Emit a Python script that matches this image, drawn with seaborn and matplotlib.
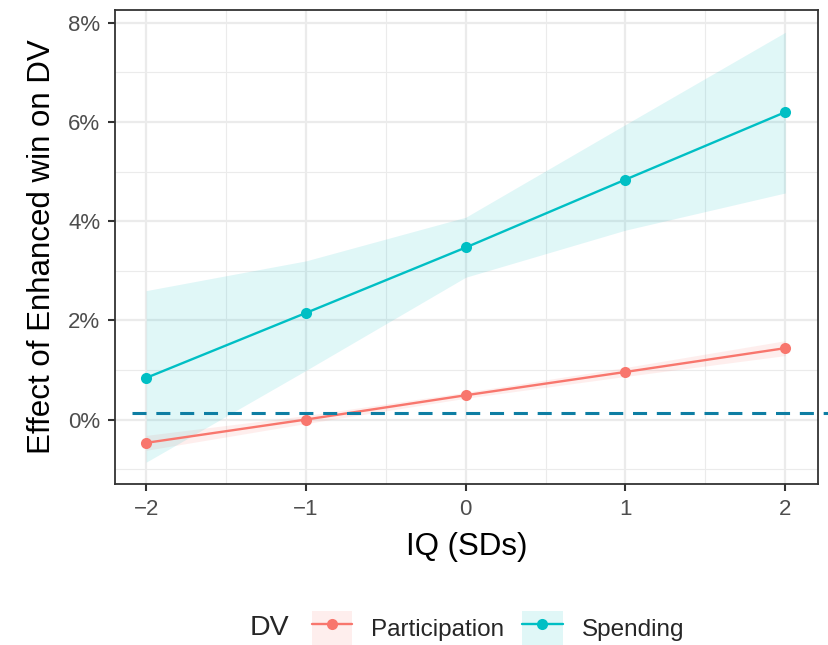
import numpy as np
import pandas as pd
import matplotlib
matplotlib.use("Agg")
import matplotlib.pyplot as plt
import seaborn as sns
from matplotlib.lines import Line2D
from matplotlib.patches import Patch
from matplotlib.ticker import FuncFormatter, MultipleLocator

# ---- data ----
iq = [-2, -1, 0, 1, 2]
participation = [-0.47, 0.00, 0.49, 0.96, 1.44]
participation_lo = [-0.62, -0.08, 0.43, 0.87, 1.29]
participation_hi = [-0.32, 0.08, 0.55, 1.05, 1.59]
spending = [0.84, 2.15, 3.47, 4.84, 6.20]
spending_lo = [-0.86, 0.99, 2.87, 3.82, 4.57]
spending_hi = [2.60, 3.20, 4.08, 5.95, 7.81]
ref_line = 0.13
series_names = ["Participation", "Spending"]
colors = {"Participation": "#F8766D", "Spending": "#00BFC4"}

df = pd.DataFrame({
    "IQ": iq * 2,
    "effect": participation + spending,
    "lo": participation_lo + spending_lo,
    "hi": participation_hi + spending_hi,
    "DV": ["Participation"] * 5 + ["Spending"] * 5,
})

sns.set_theme(style="white")
plt.rcParams["font.family"] = ["Liberation Sans", "DejaVu Sans"]

fig = plt.figure(figsize=(8.29, 6.45), dpi=100)
ax = fig.add_axes([115 / 829, 1 - 484 / 645, 703 / 829, 474 / 645])

for name in series_names:
    sub = df[df["DV"] == name]
    ax.fill_between(sub["IQ"], sub["lo"], sub["hi"], color=colors[name],
                    alpha=0.12, linewidth=0, zorder=2)

sns.lineplot(data=df, x="IQ", y="effect", hue="DV", palette=colors,
             marker="o", markersize=8, markeredgewidth=0, linewidth=1.7,
             ax=ax, legend=False, zorder=3)

ax.axhline(ref_line, xmin=17 / 703, xmax=714 / 703, color="#0E7EA3",
           linewidth=2.2, linestyle=(0, (4.6, 3.2)), clip_on=False, zorder=4)

ax.set_xlim(-2.195, 2.205)
ax.set_ylim(-1.30, 8.26)
ax.xaxis.set_major_locator(MultipleLocator(1))
ax.xaxis.set_minor_locator(MultipleLocator(0.5))
ax.yaxis.set_major_locator(MultipleLocator(2))
ax.yaxis.set_minor_locator(MultipleLocator(1))
ax.xaxis.set_major_formatter(FuncFormatter(lambda v, p: f"{int(round(v))}".replace("-", "\u2212")))
ax.yaxis.set_major_formatter(FuncFormatter(lambda v, p: f"{int(round(v))}%"))

ax.grid(which="major", color="#EBEBEB", linewidth=1.6, zorder=0)
ax.grid(which="minor", color="#EBEBEB", linewidth=0.8, zorder=0)
ax.set_axisbelow(True)
for s in ax.spines.values():
    s.set_color("#333333")
    s.set_linewidth(1.3)

ax.tick_params(which="major", direction="out", length=5, width=1.5,
               color="#333333", labelsize=16, labelcolor="#4D4D4D", pad=5.5)
ax.tick_params(which="minor", length=0)
ax.tick_params(axis="x", bottom=True)
ax.tick_params(axis="y", left=True)

ax.set_xlabel("IQ (SDs)", fontsize=22.5, color="black", labelpad=9)
ax.set_ylabel("Effect of Enhanced win on DV", fontsize=22.5, color="black", labelpad=8)

# legend: two identically laid-out legends (fill keys + line/point keys)
legend_kw = dict(ncol=2, loc="center left", bbox_to_anchor=(312 / 829, 1 - 628 / 645),
                 frameon=False, fontsize=17.5, handlelength=1.65, handleheight=1.75,
                 handletextpad=0.78, columnspacing=0.75, borderpad=0, borderaxespad=0)
patch_handles = [Patch(facecolor=colors[n], alpha=0.12, edgecolor="none") for n in series_names]
line_handles = [Line2D([], [], color=colors[n], marker="o", markersize=8,
                       markeredgewidth=0, linewidth=1.7) for n in series_names]
leg1 = fig.legend(patch_handles, series_names, **legend_kw)
leg2 = fig.legend(line_handles, series_names, numpoints=1, **legend_kw)
for t in leg2.get_texts():
    t.set_alpha(0)

fig.text(250 / 829, 1 - 628 / 645, "DV", fontsize=20.5, va="center", ha="left")

fig.savefig("out.png", dpi=100, facecolor="white")
